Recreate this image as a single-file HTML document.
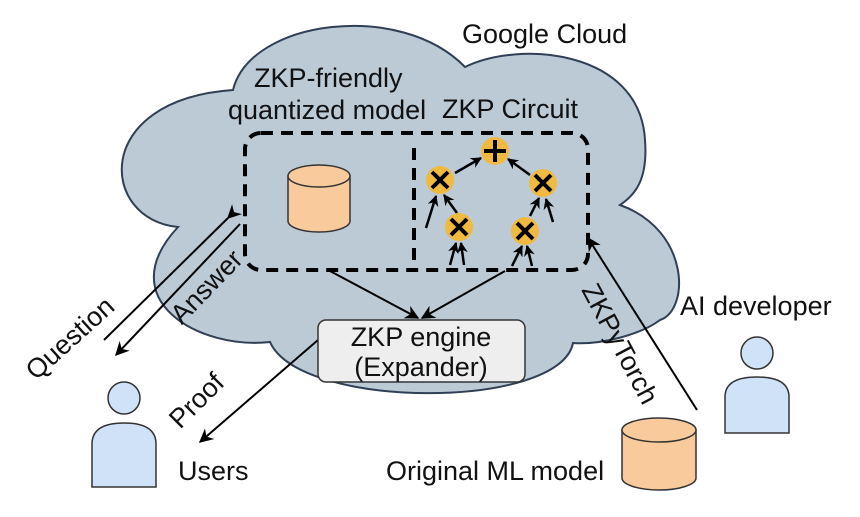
<!DOCTYPE html>
<html><head><meta charset="utf-8"><style>
html,body{margin:0;padding:0;background:#fff}
svg{display:block}
text{font-family:"Liberation Sans",Arial,sans-serif;font-size:27px;fill:#111}
</style></head><body>
<svg width="860" height="517" viewBox="0 0 860 517" xmlns="http://www.w3.org/2000/svg">
<defs>
<marker id="a" viewBox="0 0 10 10" refX="9" refY="5" markerWidth="11" markerHeight="11" orient="auto-start-reverse" markerUnits="userSpaceOnUse">
<path d="M0,0 L10,5 L0,10 L3,5 Z" fill="#000"/></marker>
<marker id="b" viewBox="0 0 10 10" refX="9" refY="5" markerWidth="14" markerHeight="14" orient="auto" markerUnits="userSpaceOnUse">
<path d="M0,0 L10,5 L0,10 L3,5 Z" fill="#000"/></marker>
</defs>
<path d="M233 90 C250 20,400 0,465 67 C520 40,640 50,645 140 C648 180,635 195,620 205 C690 230,690 310,660 320 C640 335,600 345,573 343 C560 410,300 410,270 342 C200 350,110 300,178 227 C100 220,90 100,233 90 Z" fill="#bccad6" stroke="#2f3f55" stroke-width="2"/>
<text x="462" y="43">Google Cloud</text>
<text x="254" y="87">ZKP-friendly</text>
<text x="228" y="119">quantized model</text>
<text x="442" y="118">ZKP Circuit</text>
<rect x="245" y="133" width="343" height="137" rx="16" fill="none" stroke="#000" stroke-width="4" stroke-dasharray="12 8"/>
<line x1="414" y1="148" x2="414" y2="270" stroke="#000" stroke-width="4" stroke-dasharray="12 8"/>
<g stroke="#333" stroke-width="1.5" fill="#f9cb9c">
<path d="M288 176 L288 221 A31 11 0 0 0 350 221 L350 176 Z"/>
<ellipse cx="319" cy="176" rx="31" ry="11"/>
</g>
<g stroke="#000" stroke-width="2.5" marker-end="url(#a)">
<line x1="455" y1="173" x2="481" y2="158"/>
<line x1="530" y1="175" x2="508" y2="159"/>
<line x1="457" y1="213" x2="444" y2="195"/>
<line x1="426" y1="228" x2="436" y2="196"/>
<line x1="450" y1="265" x2="456" y2="243"/>
<line x1="464" y1="265" x2="461" y2="243"/>
<line x1="530" y1="216" x2="539" y2="198"/>
<line x1="553" y1="222" x2="546" y2="199"/>
<line x1="512" y1="266" x2="522" y2="246"/>
<line x1="532" y1="266" x2="527" y2="246"/>
</g>
<g fill="#f0b940">
<circle cx="495" cy="151" r="14"/><circle cx="440" cy="180" r="14"/><circle cx="543" cy="183" r="14"/><circle cx="459" cy="227" r="14"/><circle cx="525" cy="231" r="14"/>
</g>
<g stroke="#000" stroke-width="4">
<line x1="495" y1="140" x2="495" y2="162"/><line x1="484" y1="151" x2="506" y2="151"/>
<path d="M432 172 L448 188 M448 172 L432 188"/>
<path d="M535 175 L551 191 M551 175 L535 191"/>
<path d="M451 219 L467 235 M467 219 L451 235"/>
<path d="M517 223 L533 239 M533 223 L517 239"/>
</g>
<g stroke="#000" stroke-width="2" marker-end="url(#b)">
<line x1="330" y1="271" x2="418" y2="318"/>
<line x1="505" y1="271" x2="422" y2="318"/>
<line x1="228" y1="218" x2="104" y2="340" marker-end="none" marker-start="url(#b)"/>
<line x1="240" y1="224" x2="116" y2="355"/>
<line x1="318" y1="340" x2="200" y2="442"/>
<line x1="697" y1="410" x2="588" y2="238"/>
</g>
<rect x="318" y="320" width="207" height="62" rx="8" fill="#eeeeee" stroke="#333" stroke-width="1.5"/>
<text x="421" y="346" text-anchor="middle">ZKP engine</text>
<text x="421" y="376" text-anchor="middle">(Expander)</text>
<text transform="translate(76,345) rotate(-42)" text-anchor="middle">Question</text>
<text transform="translate(213,293) rotate(-46)" text-anchor="middle">Answer</text>
<text transform="translate(203,407) rotate(-45)" text-anchor="middle">Proof</text>
<text transform="translate(612,348) rotate(62)" text-anchor="middle">ZKPyTorch</text>
<g fill="#cfe2f7" stroke="#333" stroke-width="1.5">
<circle cx="124" cy="398" r="16"/>
<path d="M92 487 L92 444 Q92 423 124 423 Q156 423 156 444 L156 487 Z"/>
<circle cx="757" cy="353" r="16"/>
<path d="M725 433 L725 397 Q725 377 757 377 Q789 377 789 397 L789 433 Z"/>
</g>
<text x="178" y="480">Users</text>
<text x="386" y="480">Original ML model</text>
<text x="680" y="315">AI developer</text>
<g stroke="#333" stroke-width="1.5" fill="#f9cb9c">
<path d="M622 430 L622 478 A37 12 0 0 0 696 478 L696 430 Z"/>
<ellipse cx="659" cy="430" rx="37" ry="12"/>
</g>
</svg>
</body></html>
